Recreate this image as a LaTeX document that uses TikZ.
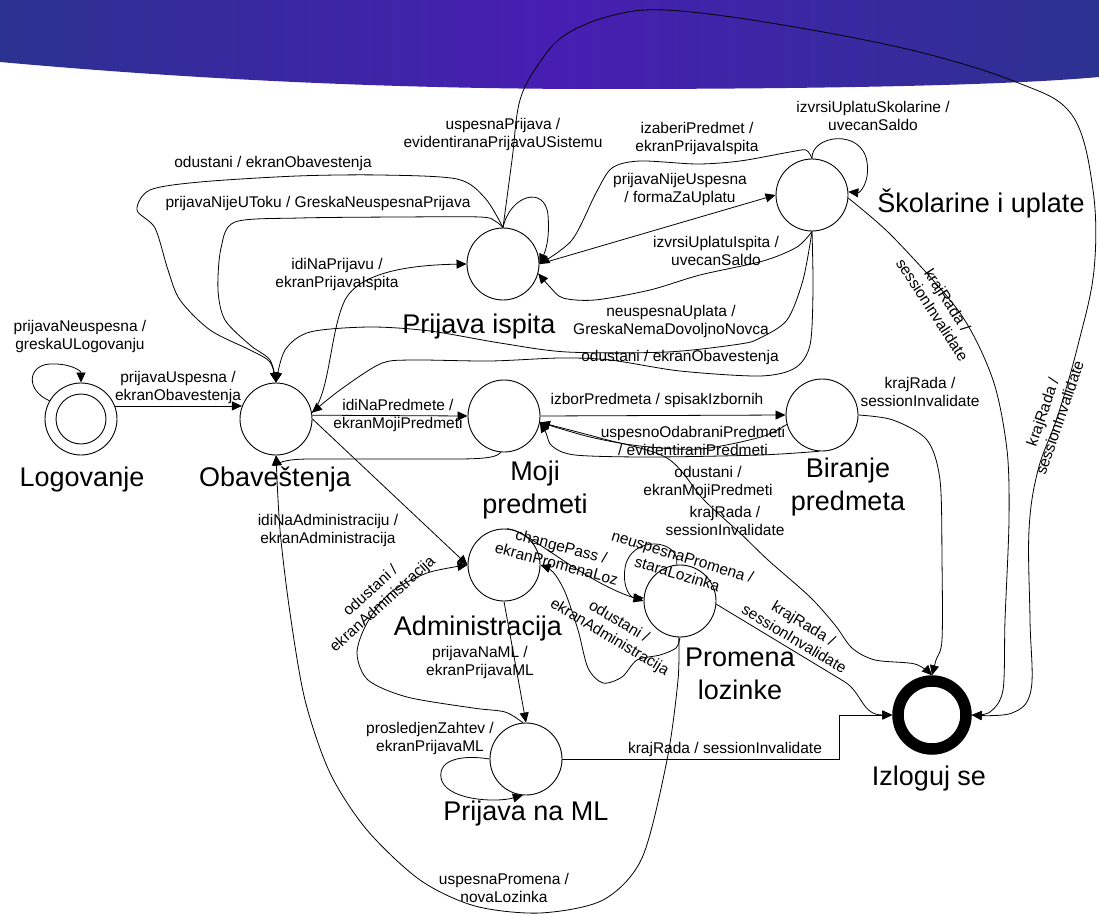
\documentclass[tikz,border=0pt]{standalone}
\usepackage{fontspec}
\setmainfont{Liberation Sans}
\usetikzlibrary{arrows.meta}
\definecolor{bandedge}{RGB}{44,50,145}
\definecolor{bandmid}{RGB}{72,30,178}
\tikzset{
  state/.style={circle, draw, line width=0.9pt, minimum size=72pt, inner sep=0pt},
  lab/.style={font=\fontsize{15.5}{18}\selectfont, align=center, inner sep=0pt},
  big/.style={font=\fontsize{27}{33}\selectfont, align=center, inner sep=0pt},
  trans/.style={line width=0.8pt, -{Triangle[length=10pt,width=9pt]}},
}

\begin{document}
\begin{tikzpicture}[x=1pt, y=-1pt]
    \useasboundingbox (0,0) rectangle (1099,917);
    % banner
    \shade[left color=bandedge, right color=bandedge, middle color=bandmid]
        (0,0) -- (0,62) .. controls (200,80) and (400,89) .. (600,89)
        .. controls (800,89) and (1000,86) .. (1099,77) -- (1099,0) -- cycle;

    % states
    \node[state] (logovanje) at (81,419) {};
    \node[circle, draw, line width=0.9pt, minimum size=50pt, inner sep=0pt] (logovanjeIn) at (81,419) {};
    \node[state] (obavestenja) at (276,419) {};
    \node[state] (prijava) at (503,264) {};
    \node[state] (skolarine) at (812,195) {};
    \node[state] (moji) at (504,416) {};
    \node[state] (biranje) at (822,415) {};
    \node[state] (admin) at (504,565) {};
    \node[state] (promena) at (680,601) {};
    \node[state] (prijavaML) at (526,759) {};
    \node[circle, draw, line width=11.5pt, minimum size=68pt, inner sep=0pt] (izloguj) at (932,715) {};

    \node[big, anchor=base] (tLog) at (82,486) {Logovanje};
    \node[big, anchor=base] (tObav) at (275,486) {Obaveštenja};
    \node[big, anchor=base] (tPri) at (479,333) {Prijava ispita};
    \node[big, anchor=base] (tSkol) at (981,213) {Školarine i uplate};
    \node[big] (tMoji) at (535,490) {Moji\\predmeti};
    \node[big] (tBir) at (848,487) {Biranje\\predmeta};
    \node[big, anchor=base] (tAdm) at (478,635) {Administracija};
    \node[big] (tProm) at (740,674) {Promena\\lozinke};
    \node[big, anchor=base] (tML) at (526,820) {Prijava na ML};
    \node[big, anchor=base] (tIzl) at (929,785) {Izloguj se};

    % logovanje
    \draw[trans] (logovanje.150) .. controls (25,390) and (28,365) .. (50,364) .. controls (68,363) and (81,370) .. (logovanje.north);
    \draw[trans] (logovanje.21) -- (obavestenja.159);

    % obavestenja
    \draw[trans] (obavestenja.6) -- (moji.west);
    \draw[trans] (moji.-95) .. controls (495,460) and (470,459) .. (420,459) -- (310,459) .. controls (285,459) and (277,463) .. (obavestenja.south);
    \draw[trans] (obavestenja.10) .. controls (330,395) and (330,330) .. (345,300) .. controls (360,272) and (410,265) .. (prijava.west);
    \draw[trans] (obavestenja.east) -- (admin.west);

    % prijava ispita
    \draw[trans] plot[smooth] coordinates {(prijava.north) (485,198) (457,179) (380,175) (297,176) (200,182) (150,190) (137,210) (155,228) (168,270) (180,300) (210,330) (250,350) (270,362) (obavestenja.north)};
    \draw[trans] plot[smooth] coordinates {(prijava.north) (495,221) (480,217) (400,217) (300,218) (235,222) (221,248) (218,290) (225,320) (250,345) (270,360) (obavestenja.north)};
    \draw[trans] (prijava.north) .. controls (510,195) and (545,185) .. (548,215) .. controls (550,240) and (545,252) .. (prijava.east);
    \draw[trans] plot[smooth, tension=0.6] coordinates {(prijava.north) (512,160) (520,100) (540,62) (565,35) (610,16) (665,10) (771,23) (911,50) (1016,82) (1072,115) (1093,190) (1094,270) (1078,345) (1058,415) (1038,470) (1029,530) (1030,620) (1031,690) (1012,713) (izloguj.east)};
    \draw[trans] (prijava.east) -- (skolarine.west);

    % skolarine i uplate
    \draw[trans] (skolarine.north) .. controls (811,135) and (862,128) .. (867,162) .. controls (870,182) and (860,193) .. (skolarine.5);
    \draw[trans] plot[smooth] coordinates {(skolarine.north) (806,150) (790,152) (740,161) (697,164) (640,161) (612,168) (596,193) (572,240) (prijava.east)};
    \draw[trans] plot[smooth] coordinates {(skolarine.south) (797,247) (763,261) (700,275) (650,290) (595,300) (563,298) (550,287) (prijava.-15)};
    \draw[trans] plot[smooth] coordinates {(skolarine.south) (803,280) (787,320) (760,338) (740,344) (667,352) (567,352) (500,343) (430,331) (370,327) (310,332) (285,350) (obavestenja.north)};
    \draw[trans] plot[smooth] coordinates {(skolarine.south) (813,290) (810,345) (795,368) (760,376) (680,371) (610,360) (560,358) (490,361) (410,360) (380,364) (340,390) (obavestenja.10)};
    \draw[trans] plot[smooth] coordinates {(skolarine.-5) (893,237) (960,313) (993,380) (1007,450) (1009,520) (1005,620) (1003,690) (990,712) (izloguj.east)};

    % moji predmeti / biranje
    \draw[trans] (moji.east) -- (biranje.west);
    \draw[trans] plot[smooth] coordinates {(biranje.195) (761,437) (700,449) (640,446) (590,437) (moji.-10)};
    \draw[trans] plot[smooth] coordinates {(biranje.-95) (760,455) (650,457) (575,455) (552,446) (546,433) (moji.-10)};
    \draw[trans] plot[smooth] coordinates {(moji.-10) (600,438) (667,458) (704,500) (740,533) (768,560) (810,597) (835,625) (852,648) (875,660) (915,664) (izloguj.north)};
    \draw[trans] plot[smooth] coordinates {(biranje.east) (893,420) (927,440) (940,480) (942,560) (942,640) (936,660) (izloguj.north)};

    % administracija / promena lozinke
    \draw[trans] (admin.85) .. controls (528,530) and (580,580) .. (promena.west);
    \draw[trans] plot[smooth] coordinates {(promena.south) (676,648) (660,655) (637,660) (622,677) (603,683) (588,668) (578,630) (565,592) (553,572) (admin.east)};
    \draw[trans] (promena.95) .. controls (680,538) and (630,535) .. (625,568) .. controls (622,590) and (632,598) .. (promena.175);
    \draw[trans] (promena.-5) -- (845,682) .. controls (862,693) and (862,715) .. (izloguj.west);
    \draw[trans] plot[smooth] coordinates {(promena.-92) (678,680) (667,760) (642,858) (603,900) (540,913) (475,906) (420,880) (367,830) (330,773) (305,700) (290,613) (280,530) (obavestenja.south)};

    % prijava na ML
    \draw[trans] (admin.south) -- (prijavaML.north);
    \draw[trans] plot[smooth] coordinates {(prijavaML.95) (505,712) (473,708) (407,697) (368,680) (357,653) (367,623) (390,593) (427,573) (admin.west)};
    \draw[trans] (prijavaML.west) .. controls (465,755) and (438,758) .. (441,778) .. controls (445,800) and (495,803) .. (prijavaML.-95);
    \draw[trans] (prijavaML.east) -- (839,759) |- (izloguj.west);

    % transition labels
    \node[lab] (lLogLoop) at (80,336) {prijavaNeuspesna /\\greskaULogovanju};
    \node[lab] (lLogObav) at (178,387) {prijavaUspesna /\\ekranObavestenja};
    \node[lab] (lObavMoji) at (398,415) {idiNaPredmete /\\ekranMojiPredmeti};
    \node[lab] (lObavPri) at (337,274) {idiNaPrijavu /\\ekranPrijavaIspita};
    \node[lab] (lPriOdustani) at (273,163) {odustani / ekranObavestenja};
    \node[lab] (lPriNije) at (318,203) {prijavaNijeUToku / GreskaNeuspesnaPrijava};
    \node[lab] (lPriLoop) at (503,134) {uspesnaPrijava /\\evidentiranaPrijavaUSistemu};
    \node[lab] (lSkolLoop) at (873,116) {izvrsiUplatuSkolarine /\\uvecanSaldo};
    \node[lab] (lSkolPri) at (697,138) {izaberiPredmet /\\ekranPrijavaIspita};
    \node[lab] (lPriSkol) at (680,189) {prijavaNijeUspesna\\/ formaZaUplatu};
    \node[lab] (lUplIsp) at (716,251) {izvrsiUplatuIspita /\\uvecanSaldo};
    \node[lab] (lNeusp) at (671,321) {neuspesnaUplata /\\GreskaNemaDovoljnoNovca};
    \node[lab] (lSkolOdustani) at (680,357) {odustani / ekranObavestenja};
    \node[lab, rotate=-57] (lSkolKraj) at (940,305) {krajRada /\\sessionInvalidate};
    \node[lab, rotate=71] (lPriKraj) at (1051,415) {krajRada /\\sessionInvalidate};
    \node[lab] (lMojiBir) at (657,400) {izborPredmeta / spisakIzbornih};
    \node[lab] (lBirMoji) at (693,441) {uspesnoOdabraniPredmeti\\/ evidentiraniPredmeti};
    \node[lab] (lBirOdustani) at (708,482) {odustani /\\ekranMojiPredmeti};
    \node[lab] (lMojiKraj) at (725,521) {krajRada /\\sessionInvalidate};
    \node[lab] (lBirKraj) at (920,392) {krajRada /\\sessionInvalidate};
    \node[lab] (lObavAdm) at (328,530) {idiNaAdministraciju /\\ekranAdministracija};
    \node[lab, rotate=-15] (lAdmProm) at (559,555) {changePass /\\ekranPromenaLoz};
    \node[lab, rotate=-17] (lPromLoop) at (680,565) {neuspesnaPromena /\\staraLozinka};
    \node[lab, rotate=-31] (lPromAdm) at (614,630) {odustani /\\ekranAdministracija};
    \node[lab, rotate=-31] (lPromKraj) at (799,631) {krajRada /\\sessionInvalidate};
    \node[lab] (lAdmML) at (480,662) {prijavaNaML /\\ekranPrijavaML};
    \node[lab, rotate=42] (lMLAdm) at (377,598) {odustani /\\ekranAdministracija};
    \node[lab] (lMLLoop) at (430,738) {prosledjenZahtev /\\ekranPrijavaML};
    \node[lab] (lMLKraj) at (725,749) {krajRada / sessionInvalidate};
    \node[lab] (lPromObav) at (504,888) {uspesnaPromena /\\novaLozinka};
\end{tikzpicture}
\end{document}
